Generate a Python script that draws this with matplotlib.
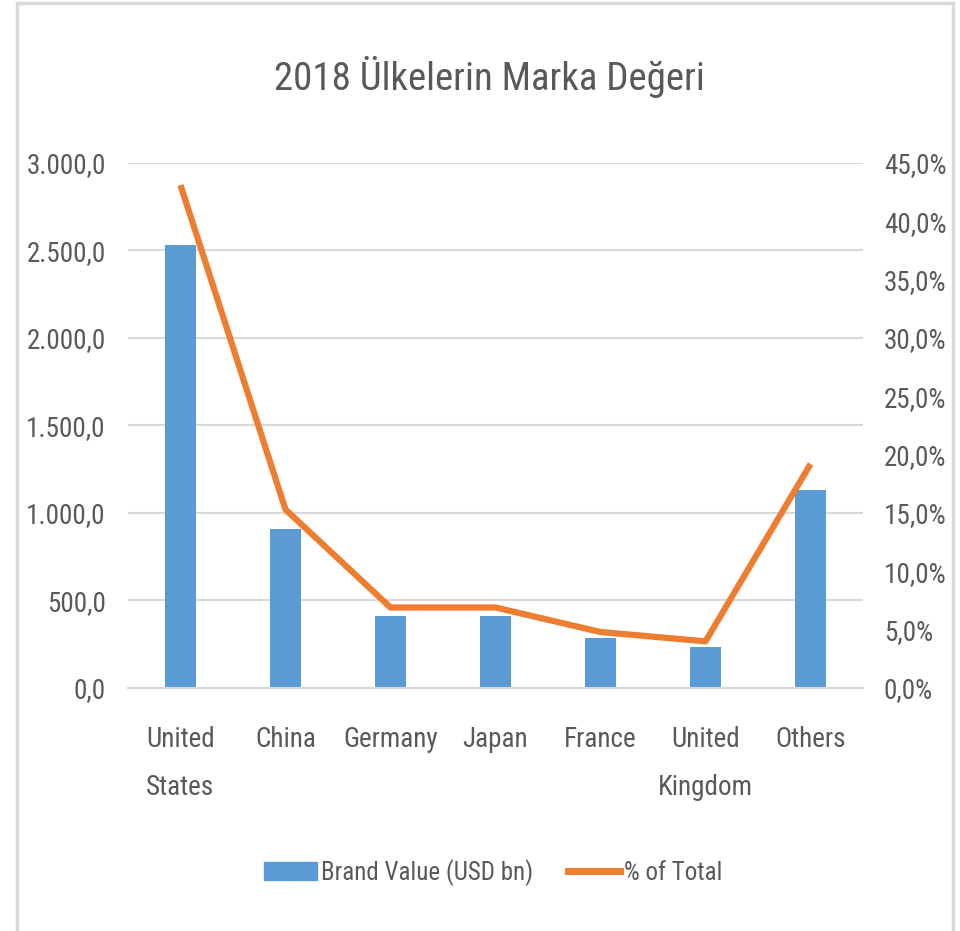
import matplotlib
matplotlib.use("Agg")
import matplotlib.pyplot as plt
from matplotlib import font_manager
from matplotlib.patches import Rectangle
from matplotlib.lines import Line2D
from matplotlib.ticker import FuncFormatter

# veriler
countries = ["United\nStates", "China", "Germany", "Japan", "France", "United\nKingdom", "Others"]
brand_value = [2530, 910, 412, 412, 285, 232, 1132]
pct_total = [43.1, 15.3, 6.9, 6.9, 4.8, 4.0, 19.2]

# dar bir yazi tipi varsa onu kullan
names = {f.name for f in font_manager.fontManager.ttflist}
fam = "Open Sans"
for cand in ["Liberation Sans Narrow", "Roboto Condensed", "Open Sans Condensed", "Noto Sans Condensed"]:
    if cand in names:
        fam = cand
        break
narrow = fam != "Open Sans"
plt.rcParams["font.family"] = [fam, "DejaVu Sans"]

TXT = "#595959"
GRID = "#D9D9D9"
BLUE = "#5B9BD5"
ORANGE = "#ED7D31"

fs = 19.5 if narrow else 16
fs_leg = 18 if narrow else 15
fs_title = 28 if narrow else 23

fig = plt.figure(figsize=(9.6, 9.31), dpi=100)
ax = fig.add_axes([0.1333, 0.261, 0.7657, 0.564])
ax2 = ax.twinx()

# dis cerceve
fig.patches.append(Rectangle((17 / 960, -0.05), 936 / 960, 1 - 3 / 931 + 0.05,
                             transform=fig.transFigure, fill=False,
                             edgecolor=GRID, linewidth=2.5))

x = range(len(countries))
ax.bar(x, brand_value, width=0.3, color=BLUE, zorder=2)
ax2.plot(x, pct_total, color=ORANGE, linewidth=4.5, solid_capstyle="butt", zorder=3)

ax.set_xlim(-0.5, len(countries) - 0.5)
ax.set_ylim(0, 3000)
ax2.set_ylim(0, 45)
ax.set_yticks(range(0, 3001, 500))
ax2.set_yticks(range(0, 46, 5))


def tr_num(v, pos):
    s = f"{v:,.1f}"
    return s.replace(",", "X").replace(".", ",").replace("X", ".")


ax.yaxis.set_major_formatter(FuncFormatter(tr_num))
ax2.yaxis.set_major_formatter(FuncFormatter(lambda v, p: f"{v:.1f}%".replace(".", ",")))

ax.grid(axis="y", color=GRID, linewidth=1.5, zorder=0)
ax.set_axisbelow(True)
for a in (ax, ax2):
    for s in a.spines.values():
        s.set_visible(False)
ax.spines["bottom"].set_visible(True)
ax.spines["bottom"].set_color(GRID)
ax.spines["bottom"].set_linewidth(1.5)

ax.set_xticks(list(x))
ax.set_xticklabels(countries, linespacing=2.0)
ax.tick_params(axis="x", length=0, pad=27, labelsize=fs, labelcolor=TXT)
ax.tick_params(axis="y", length=0, pad=16, labelsize=fs, labelcolor=TXT)
ax2.tick_params(axis="y", length=0, pad=15, labelsize=fs, labelcolor=TXT)

fig.text(0.51, 0.917, "2018 Ülkelerin Marka Değeri", ha="center", va="center",
         fontsize=fs_title, color=TXT)

handles = [Rectangle((0, 0), 1, 1, color=BLUE),
           Line2D([0], [0], color=ORANGE, linewidth=5)]
fig.legend(handles, ["Brand Value (USD bn)", "% of Total"], loc="center",
           bbox_to_anchor=(0.514, 0.063), ncol=2, frameon=False, fontsize=fs_leg,
           labelcolor=TXT, handlelength=2.1, handleheight=0.75,
           handletextpad=0.15, columnspacing=1.4)

fig.savefig("out.png", dpi=100)
